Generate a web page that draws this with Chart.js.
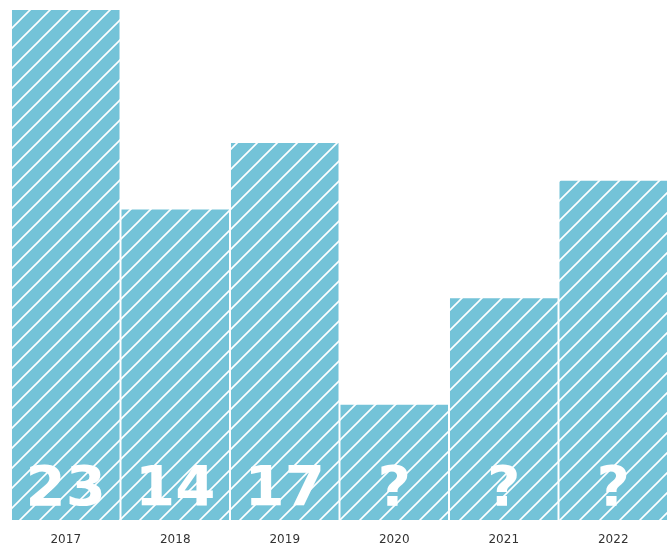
<!DOCTYPE html>
<html>
<head>
<meta charset="utf-8">
<script src="https://cdn.jsdelivr.net/npm/chart.js@4/dist/chart.umd.min.js"></script>
<style>
  html, body { margin: 0; padding: 0; background: #fff; }
  #wrap { width: 671px; height: 548px; }
</style>
</head>
<body>
<div id="wrap"><canvas id="chart" width="671" height="548"></canvas></div>
<script>
const years = ['2017', '2018', '2019', '2020', '2021', '2022'];
const counts = [23, 14, 17, 5.2, 10, 15.3];
const shownLabels = ['23', '14', '17', '?', '?', '?'];

const barBlue = '#74c3d8';

// diagonal white hatch on blue
function hatch() {
  const size = 20;
  const c = document.createElement('canvas');
  c.width = size;
  c.height = size;
  const g = c.getContext('2d');
  g.fillStyle = barBlue;
  g.fillRect(0, 0, size, size);
  g.strokeStyle = '#fff';
  g.lineWidth = 1.6;
  g.beginPath();
  g.moveTo(-2, size + 2); g.lineTo(size + 2, -2);
  g.moveTo(-2, 2); g.lineTo(2, -2);
  g.moveTo(size - 2, size + 2); g.lineTo(size + 2, size - 2);
  g.stroke();
  return g.createPattern(c, 'repeat');
}

const bigLabels = {
  id: 'bigLabels',
  afterDatasetsDraw(chart) {
    const ctx = chart.ctx;
    const meta = chart.getDatasetMeta(0);
    ctx.save();
    ctx.fillStyle = '#fff';
    ctx.font = 'bold 55px "DejaVu Sans"';
    ctx.textAlign = 'center';
    ctx.textBaseline = 'alphabetic';
    meta.data.forEach((bar, i) => {
      ctx.save();
      ctx.translate(bar.x, chart.chartArea.bottom - 15);
      ctx.scale(1.05, 1);
      ctx.fillText(shownLabels[i], 0, 0);
      ctx.restore();
    });
    ctx.restore();
  },
};

new Chart(document.getElementById('chart'), {
  type: 'bar',
  data: {
    labels: years,
    datasets: [{
      data: counts,
      backgroundColor: hatch(),
      borderWidth: 0,
      categoryPercentage: 1,
      barPercentage: 0.982,
    }],
  },
  options: {
    responsive: false,
    animation: false,
    layout: { padding: { left: 11, right: 3, top: 10, bottom: 0 } },
    plugins: {
      legend: { display: false },
      tooltip: { enabled: false },
    },
    scales: {
      x: {
        grid: { display: false },
        border: { display: false },
        ticks: {
          color: '#333',
          font: { family: 'DejaVu Sans', size: 12 },
          padding: 5,
        },
        afterFit(scale) { scale.height = 28; },
      },
      y: {
        display: false,
        min: 0,
        max: 23,
      },
    },
  },
  plugins: [bigLabels],
});
</script>
</body>
</html>
